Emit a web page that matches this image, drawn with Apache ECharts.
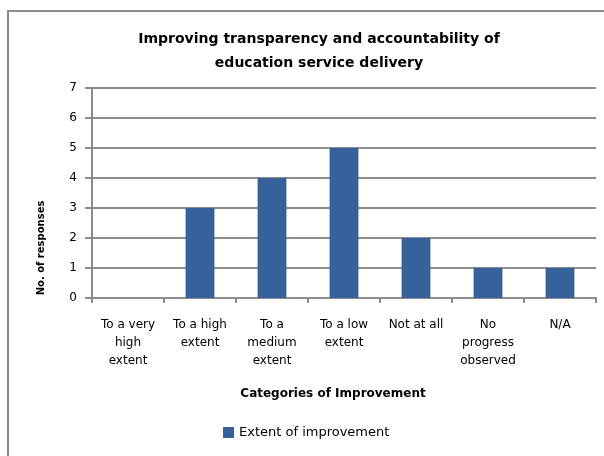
<!DOCTYPE html>
<html>
<head>
<meta charset="utf-8">
<script src="https://cdn.jsdelivr.net/npm/echarts@6/dist/echarts.min.js"></script>
<style>
  html, body { margin: 0; padding: 0; background: #fff; }
  #chart { width: 604px; height: 456px; }
</style>
</head>
<body>
<div id="chart"></div>
<script>
  // categories as printed under the axis (wrapped like the original)
  const categories = [
    'To a very\nhigh\nextent',
    'To a high\nextent',
    'To a\nmedium\nextent',
    'To a low\nextent',
    'Not at all',
    'No\nprogress\nobserved',
    'N/A'
  ];
  const responses = [0, 3, 4, 5, 2, 1, 1];
  const yTicks = [0, 1, 2, 3, 4, 5, 6, 7];

  const font = 'DejaVu Sans';
  const chart = echarts.init(document.getElementById('chart'));

  let option = {
    animation: false,
    backgroundColor: '#fff',
    graphic: [{
      type: 'rect',
      shape: { x: 8, y: 11, width: 700, height: 600 },
      style: { fill: 'none', stroke: '#8c8c8c', lineWidth: 2 }
    }],
    title: {
      text: 'Improving transparency and accountability of\neducation service delivery',
      left: 314,
      top: 22,
      textAlign: 'center',
      textStyle: {
        fontFamily: font,
        fontSize: 14,
        fontWeight: 'bold',
        color: '#000',
        lineHeight: 24
      }
    },
    legend: {
      data: ['Extent of improvement'],
      left: 223,
      top: 426,
      padding: 0,
      itemWidth: 11,
      itemHeight: 11,
      itemGap: 5,
      icon: 'rect',
      textStyle: { fontFamily: font, fontSize: 13, color: '#000' }
    },
    grid: { left: 92, right: 8, top: 88, bottom: 158 },
    xAxis: {
      type: 'category',
      data: categories,
      name: 'Categories of Improvement',
      nameLocation: 'middle',
      nameGap: 90,
      nameTextStyle: {
        fontFamily: font, fontSize: 12, fontWeight: 'bold', color: '#000',
        padding: [0, 22, 0, 0]
      },
      axisLine: { lineStyle: { color: '#8c8c8c', width: 2 } },
      axisTick: { show: true, length: 5, lineStyle: { color: '#8c8c8c', width: 2 } },
      axisLabel: {
        interval: 0,
        margin: 18,
        fontFamily: font,
        fontSize: 12,
        lineHeight: 18,
        color: '#000'
      }
    },
    yAxis: {
      type: 'value',
      min: yTicks[0],
      max: yTicks[yTicks.length - 1],
      interval: 1,
      name: 'No. of responses',
      nameLocation: 'middle',
      nameRotate: 90,
      nameGap: 46,
      nameTextStyle: {
        fontFamily: font, fontSize: 10, fontWeight: 'bold', color: '#000',
        padding: [0, 110, 0, 0]
      },
      axisLine: { show: true, lineStyle: { color: '#8c8c8c', width: 2 } },
      axisTick: { show: true, length: 7, lineStyle: { color: '#8c8c8c', width: 2 } },
      splitLine: { lineStyle: { color: '#8c8c8c', width: 2 } },
      axisLabel: { margin: 15, fontFamily: font, fontSize: 12, color: '#000' }
    },
    series: [{
      name: 'Extent of improvement',
      type: 'bar',
      data: responses,
      barWidth: '40%',
      itemStyle: { color: '#37619a' }
    }]
  };
  chart.setOption(option);
</script>
</body>
</html>
